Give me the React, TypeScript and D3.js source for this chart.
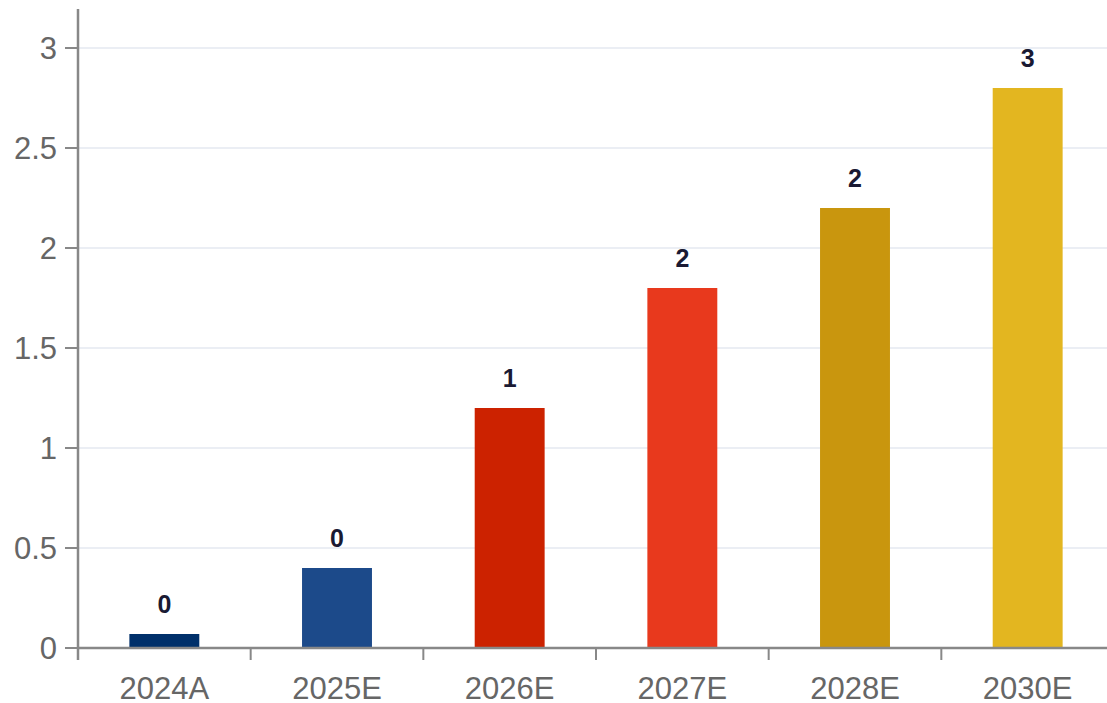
import React, { useEffect, useRef } from 'react';
import * as d3 from 'd3';

const categories = ['2024A', '2025E', '2026E', '2027E', '2028E', '2030E'];
const values = [0.07, 0.4, 1.2, 1.8, 2.2, 2.8];
const barColors = ['#00306a', '#1c4a8a', '#cc2200', '#e8391d', '#c9960e', '#e3b620'];
const yTicks = [0, 0.5, 1, 1.5, 2, 2.5, 3];

const W = 1107;
const H = 703;

const App: React.FC = () => {
  const svgRef = useRef<SVGSVGElement>(null);

  useEffect(() => {
    if (!svgRef.current) return;
    const svg = d3.select(svgRef.current);
    svg.selectAll('*').remove();

    const left = 78;
    const right = 1114;
    const bottom = 648;
    const top = 8;

    const x = d3.scaleBand<string>().domain(categories).range([left, right]).paddingInner(0.595).paddingOuter(0.2975);
    const xb = d3.scaleBand<string>().domain(categories).range([left, right]);
    const y = d3.scaleLinear().domain([0, 3.2]).range([bottom, top]);

    // gridlines
    svg.append('g')
      .selectAll('line')
      .data(yTicks.filter(t => t > 0))
      .join('line')
      .attr('x1', left)
      .attr('x2', W)
      .attr('y1', d => y(d))
      .attr('y2', d => y(d))
      .attr('stroke', '#e4e8f0')
      .attr('stroke-width', 1.5);

    // bars
    svg.append('g')
      .selectAll('rect')
      .data(values)
      .join('rect')
      .attr('x', (_, i) => x(categories[i])!)
      .attr('width', x.bandwidth())
      .attr('y', d => y(d))
      .attr('height', d => y(0) - y(d))
      .attr('fill', (_, i) => barColors[i]);

    // value labels
    svg.append('g')
      .selectAll('text')
      .data(values)
      .join('text')
      .attr('x', (_, i) => x(categories[i])! + x.bandwidth() / 2)
      .attr('y', d => y(d) - 21)
      .attr('text-anchor', 'middle')
      .attr('font-family', '"Liberation Sans", Arial, sans-serif')
      .attr('font-weight', 'bold')
      .attr('font-size', 25)
      .attr('fill', '#1a1a33')
      .text(d => d3.format('.0f')(d));

    // x axis
    const xAxis = svg.append('g');
    xAxis.append('line')
      .attr('x1', left).attr('x2', W)
      .attr('y1', bottom).attr('y2', bottom)
      .attr('stroke', '#888').attr('stroke-width', 2.5);
    xAxis.selectAll('line.tick')
      .data(categories)
      .join('line')
      .attr('class', 'tick')
      .attr('x1', d => xb(d)!).attr('x2', d => xb(d)!)
      .attr('y1', bottom).attr('y2', bottom + 12)
      .attr('stroke', '#888').attr('stroke-width', 2);
    xAxis.selectAll('text')
      .data(categories)
      .join('text')
      .attr('x', d => xb(d)! + xb.bandwidth() / 2)
      .attr('y', bottom + 51)
      .attr('text-anchor', 'middle')
      .attr('font-family', '"Liberation Sans", Arial, sans-serif')
      .attr('font-size', 31)
      .attr('fill', '#666')
      .text(d => d);

    // y axis
    const yAxis = svg.append('g');
    yAxis.append('line')
      .attr('x1', left).attr('x2', left)
      .attr('y1', 9).attr('y2', bottom + 12)
      .attr('stroke', '#888').attr('stroke-width', 2.5);
    yAxis.selectAll('line.tick')
      .data(yTicks)
      .join('line')
      .attr('class', 'tick')
      .attr('x1', left - 13).attr('x2', left)
      .attr('y1', d => y(d)).attr('y2', d => y(d))
      .attr('stroke', '#888').attr('stroke-width', 2);
    yAxis.selectAll('text')
      .data(yTicks)
      .join('text')
      .attr('x', left - 21)
      .attr('y', d => y(d))
      .attr('dy', '0.35em')
      .attr('text-anchor', 'end')
      .attr('font-family', '"Liberation Sans", Arial, sans-serif')
      .attr('font-size', 31)
      .attr('fill', '#666')
      .text(d => String(d));
  }, []);

  return (
    <svg
      ref={svgRef}
      width={W}
      height={H}
      viewBox={`0 0 ${W} ${H}`}
      style={{ position: 'absolute', left: 0, top: 0, background: '#fff' }}
    />
  );
};

export default App;
